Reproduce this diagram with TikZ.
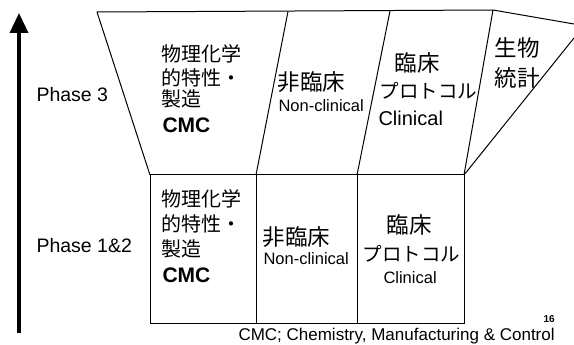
\documentclass[tikz,border=0pt]{standalone}
\usepackage{fontspec}
\setmainfont{Liberation Sans}
\newfontfamily\jp{Noto Sans CJK JP}
\usetikzlibrary{arrows.meta}
\begin{document}
\begin{tikzpicture}[x=1pt,y=-1pt,line width=1pt,
  txt/.style={inner sep=0pt,anchor=base west},
  jpa/.style={txt,font=\jp\fontsize{20}{24}\selectfont},
  jpb/.style={txt,font=\jp\fontsize{22.5}{26}\selectfont},
  jpc/.style={txt,font=\jp\fontsize{19.5}{24}\selectfont},
  cmc/.style={txt,font=\bfseries\fontsize{21}{24}\selectfont},
  phase/.style={txt,font=\fontsize{19.5}{24}\selectfont},
  eng/.style={txt,font=\fontsize{16.5}{20}\selectfont},
  engl/.style={txt,font=\fontsize{20}{24}\selectfont}]
\useasboundingbox (0,0) rectangle (574,345);
% grid coordinates
\coordinate (tl) at (97,12);
\coordinate (t1) at (288,11.5);
\coordinate (t2) at (390,11);
\coordinate (t3) at (493,10);
\coordinate (tr) at (574,24);
\coordinate (bl) at (150,175);
\coordinate (b1) at (256,175);
\coordinate (b2) at (357,175);
\coordinate (b3) at (464,175);
\coordinate (dr) at (574,38);
\coordinate (l0) at (150,323);
\coordinate (l1) at (256,323);
\coordinate (l2) at (357,323);
\coordinate (l3) at (464,323);
% upper (Phase 3) band
\draw (tl) -- (t3) -- (tr);
\draw (tl) -- (bl);
\draw (t1) -- (b1);
\draw (t2) -- (b2);
\draw (t3) -- (b3);
\draw (b3) -- (dr);
% lower (Phase 1&2) band
\draw (bl) rectangle (l3);
\draw (b1) -- (l1);
\draw (b2) -- (l2);
% arrow
\coordinate (abot) at (19,333);
\coordinate (atop) at (19,13);
\draw[line width=3.5pt,-{Triangle[width=18pt,length=20pt]}] (abot) -- (atop);
% labels
\node[phase] (p3) at (36,102) {Phase 3};
\node[phase] (p12) at (36,252) {Phase 1\&2};
% upper texts
\node[jpa] (u1a) at (161,61.5) {物理化学};
\node[jpa] (u1b) at (161,85.5) {的特性・};
\node[jpa] (u1c) at (161,106.5) {製造};
\node[cmc] (u1d) at (162,133) {CMC};
\node[jpb] (u2a) at (277,90.5) {非臨床};
\node[eng] (u2b) at (278,112) {Non-clinical};
\node[jpb] (u3a) at (394,71.5) {臨床};
\node[jpc] (u3b) at (379,98.5) {プロトコル};
\node[engl] (u3c) at (378,125) {Clinical};
\node[jpb] (u4a) at (494,56.5) {生物};
\node[jpb] (u4b) at (494,86.5) {統計};
% lower texts
\node[jpa] (d1a) at (161,206.5) {物理化学};
\node[jpa] (d1b) at (161,231.5) {的特性・};
\node[jpa] (d1c) at (161,256.5) {製造};
\node[cmc] (d1d) at (162,282) {CMC};
\node[jpb] (d2a) at (262,245.5) {非臨床};
\node[eng] (d2b) at (263,265) {Non-clinical};
\node[jpb] (d3a) at (386,233.5) {臨床};
\node[jpc] (d3b) at (362,261.5) {プロトコル};
\node[eng] (d3c) at (383,283) {Clinical};
% footer
\node[txt,font=\bfseries\fontsize{10}{12}\selectfont] (pg) at (543,322) {16};
\node[txt,font=\fontsize{17}{20}\selectfont] (foot) at (238,340.5) {CMC; Chemistry, Manufacturing \& Control};
\end{tikzpicture}
\end{document}
